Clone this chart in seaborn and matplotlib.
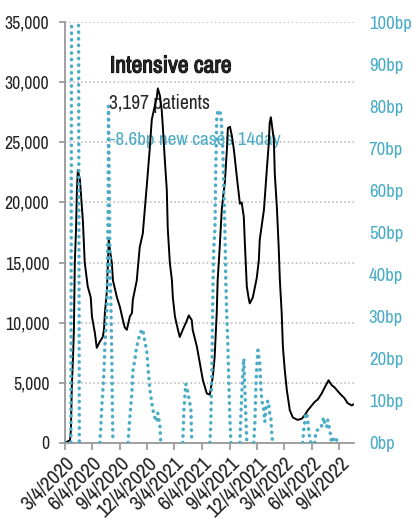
import matplotlib
matplotlib.use('Agg')
import matplotlib.pyplot as plt
import matplotlib.ticker as mticker
import matplotlib.patheffects as pe
from matplotlib import font_manager as fm
import pandas as pd
import seaborn as sns

START = pd.Timestamp('2020-03-04')
LAST_DAY = 961
BLUE = '#4bacc6'
GREY = '#999999'

# intensive care patients (left axis), x = days since 4 Mar 2020
icu_day = [1, 18, 21, 24, 28, 31, 34, 38, 41, 44,
           51, 61, 67, 77, 87, 91, 101, 107, 117, 127,
           131, 134, 141, 144, 147, 151, 157, 161, 174, 184,
           194, 200, 207, 217, 224, 227, 240, 250, 260, 273,
           283, 290, 297, 307, 310, 317, 323, 327, 333, 340,
           343, 350, 357, 360, 367, 377, 383, 393, 407, 413,
           423, 426, 440, 450, 460, 473, 483, 493, 499, 506,
           509, 516, 519, 523, 533, 540, 543, 550, 556, 563,
           573, 583, 589, 596, 599, 606, 613, 616, 626, 639,
           646, 649, 663, 673, 679, 682, 686, 696, 699, 706,
           712, 716, 722, 726, 732, 739, 749, 759, 775, 789,
           799, 809, 822, 832, 842, 855, 865, 878, 888, 898,
           915, 931, 941, 955, 961]
icu_patients = [0, 200, 1060, 4600, 7100, 9400, 15000, 17700, 21000, 22700,
                21900, 18400, 15000, 13000, 12100, 10500, 9100, 7900, 8400, 8800,
                9400, 10800, 12700, 15000, 16900, 16000, 15000, 13500, 12100, 11300,
                10200, 9600, 9400, 10500, 10800, 11900, 13500, 16300, 17400, 21300,
                24400, 26900, 27700, 28800, 29500, 28900, 27700, 26200, 23700, 21000,
                17900, 15000, 13500, 12100, 10500, 9400, 8800, 9400, 10200, 10600,
                10200, 9400, 8000, 6600, 5200, 4100, 4000, 5500, 7100, 10800,
                13500, 16300, 17700, 19500, 21700, 24500, 26200, 26300, 25600, 24400,
                22100, 19900, 20000, 18800, 16900, 13000, 11900, 11600, 12100, 13700,
                15200, 16900, 19400, 22900, 24900, 26600, 27100, 25200, 22400, 19600,
                16300, 13500, 10800, 8000, 6100, 4400, 2700, 2100, 1900, 2000,
                2300, 2700, 3100, 3400, 3600, 4100, 4600, 5200, 4800, 4600,
                4100, 3700, 3300, 3100, 3197]

# new cases per 14 days in basis points (right axis), one list per wave
wave_day = [
    [0, 18, 21, 34, 49],
    [117, 120, 124, 127, 131, 134, 137, 141, 145, 146, 149, 151, 154, 157, 159, 161],
    [211, 217, 224, 227, 234, 240, 244, 250, 260, 267, 273, 283, 293, 300, 307, 310, 317, 320],
    [393, 397, 403, 410, 420, 423],
    [483, 486, 490, 493, 496, 500, 503, 506, 510, 516, 521, 526, 529, 533, 536, 539, 543, 546, 549, 553],
    [583, 586, 589, 593, 596, 599, 603, 606],
    [629, 633, 636, 639, 643, 649, 652, 656, 662, 666, 669, 676, 679, 682, 686, 689, 692],
    [792, 795, 799, 802, 805, 809, 812, 815, 819],
    [832, 835, 839, 845, 852, 858, 861, 865, 872, 875, 882, 888, 898, 905, 912],
]
wave_bp = [
    [0, 0, 0, 600, 0],
    [0, 3, 9, 12, 17, 23, 27, 33, 58, 80, 58, 43, 33, 20, 8, 0],
    [0, 6, 12, 17, 20, 23, 24, 26, 27, 24, 22, 13, 8, 6, 5, 7, 4, 0],
    [0, 8, 14, 12, 8, 0],
    [0, 4, 18, 35, 46, 51, 66, 77, 79, 79, 77, 70, 62, 51, 39, 31, 23, 15, 7, 0],
    [0, 6, 11, 17, 20, 14, 6, 0],
    [0, 5, 13, 18, 22, 19, 14, 10, 8, 5, 8, 10, 9, 7, 6, 2, 0],
    [0, 3, 5, 7, 7, 5, 3, 1, 0],
    [0, 2, 3, 3, 3.5, 4.7, 6, 4.7, 3.7, 5.4, 3, 0, 1.4, 0.6, 0],
]

tick_labels = ['3/4/2020', '6/4/2020', '9/4/2020', '12/4/2020', '3/4/2021', '6/4/2021',
               '9/4/2021', '12/4/2021', '3/4/2022', '6/4/2022', '9/4/2022']


def pick_font():
    # the original uses a condensed face; take the narrowest one installed
    fonts = fm.fontManager.ttflist
    for f in fonts:
        if 'Narrow' in f.name or 'Condensed' in f.name:
            return f.name, 'normal', 1.0
    for f in fonts:
        if f.name == 'DejaVu Sans' and f.stretch in ('condensed', 'semi-condensed'):
            return 'DejaVu Sans', 'condensed', 0.95
    return 'Liberation Sans', 'normal', 0.86


def to_dates(days):
    return START + pd.to_timedelta(days, unit='D')


icu = pd.DataFrame({'date': to_dates(icu_day), 'patients': icu_patients})
cases = pd.concat([
    pd.DataFrame({'date': to_dates(d), 'bp': v, 'wave': i})
    for i, (d, v) in enumerate(zip(wave_day, wave_bp))
], ignore_index=True)

sns.set_theme(style='ticks')
family, stretch, scale = pick_font()
plt.rcParams['font.family'] = [family, 'DejaVu Sans']
plt.rcParams['font.stretch'] = stretch

fig = plt.figure(figsize=(4.14, 5.19), dpi=100)
ax = fig.add_axes([0.156, 0.147, 0.698, 0.810])
ax2 = ax.twinx()

sns.lineplot(data=icu, x='date', y='patients', color='black', lw=1.4, ax=ax)
sns.lineplot(data=cases, x='date', y='bp', units='wave', estimator=None,
             color=BLUE, lw=2.5, linestyle=(0, (0.1, 1.8)),
             dash_capstyle='round', ax=ax2)

ax.set_xlim(START, to_dates([LAST_DAY])[0])
ax.set_ylim(0, 35000)
ax2.set_ylim(0, 100)

ax.set_yticks(range(0, 35001, 5000))
ax.yaxis.set_major_formatter(mticker.StrMethodFormatter('{x:,.0f}'))
ax.yaxis.grid(True, color='#b5b5b5', linestyle=':', linewidth=1.1)
ax.set_xticks(pd.to_datetime(tick_labels, format='%m/%d/%Y'))
ax.set_xticklabels(tick_labels, rotation=45, ha='right', rotation_mode='anchor')

ax2.set_yticks(range(0, 101, 10))
ax2.set_yticklabels([f'{v}bp' for v in range(0, 101, 10)])

for side in ['top', 'right']:
    ax.spines[side].set_visible(False)
for side in ax2.spines:
    ax2.spines[side].set_visible(False)
for side in ['left', 'bottom']:
    ax.spines[side].set_color(GREY)
    ax.spines[side].set_linewidth(1.3)

ax.tick_params(axis='y', length=4, color=GREY, pad=7, labelsize=12.8 * scale,
               labelcolor='#222222')
ax.tick_params(axis='x', length=5, color=GREY, pad=3, labelsize=15 * scale,
               labelcolor='#222222')
ax2.tick_params(axis='y', length=0, pad=11, labelsize=13.5 * scale, labelcolor=BLUE)

for a in (ax, ax2):
    a.set_xlabel('')
    a.set_ylabel('')

ax.text(0.157, 0.896, 'Intensive care', transform=ax.transAxes, fontsize=17 * scale,
        fontweight='bold', va='center', zorder=1,
        path_effects=[pe.withStroke(linewidth=0.8, foreground='black')])
ax.text(0.153, 0.806, '3,197 patients', transform=ax.transAxes, fontsize=14 * scale,
        va='center', zorder=1)
ax.text(0.157, 0.72, '-8.6bp new cases 14day', transform=ax.transAxes,
        fontsize=13.8 * scale, color=BLUE, va='center', zorder=1)

fig.savefig('out.png', dpi=100)
